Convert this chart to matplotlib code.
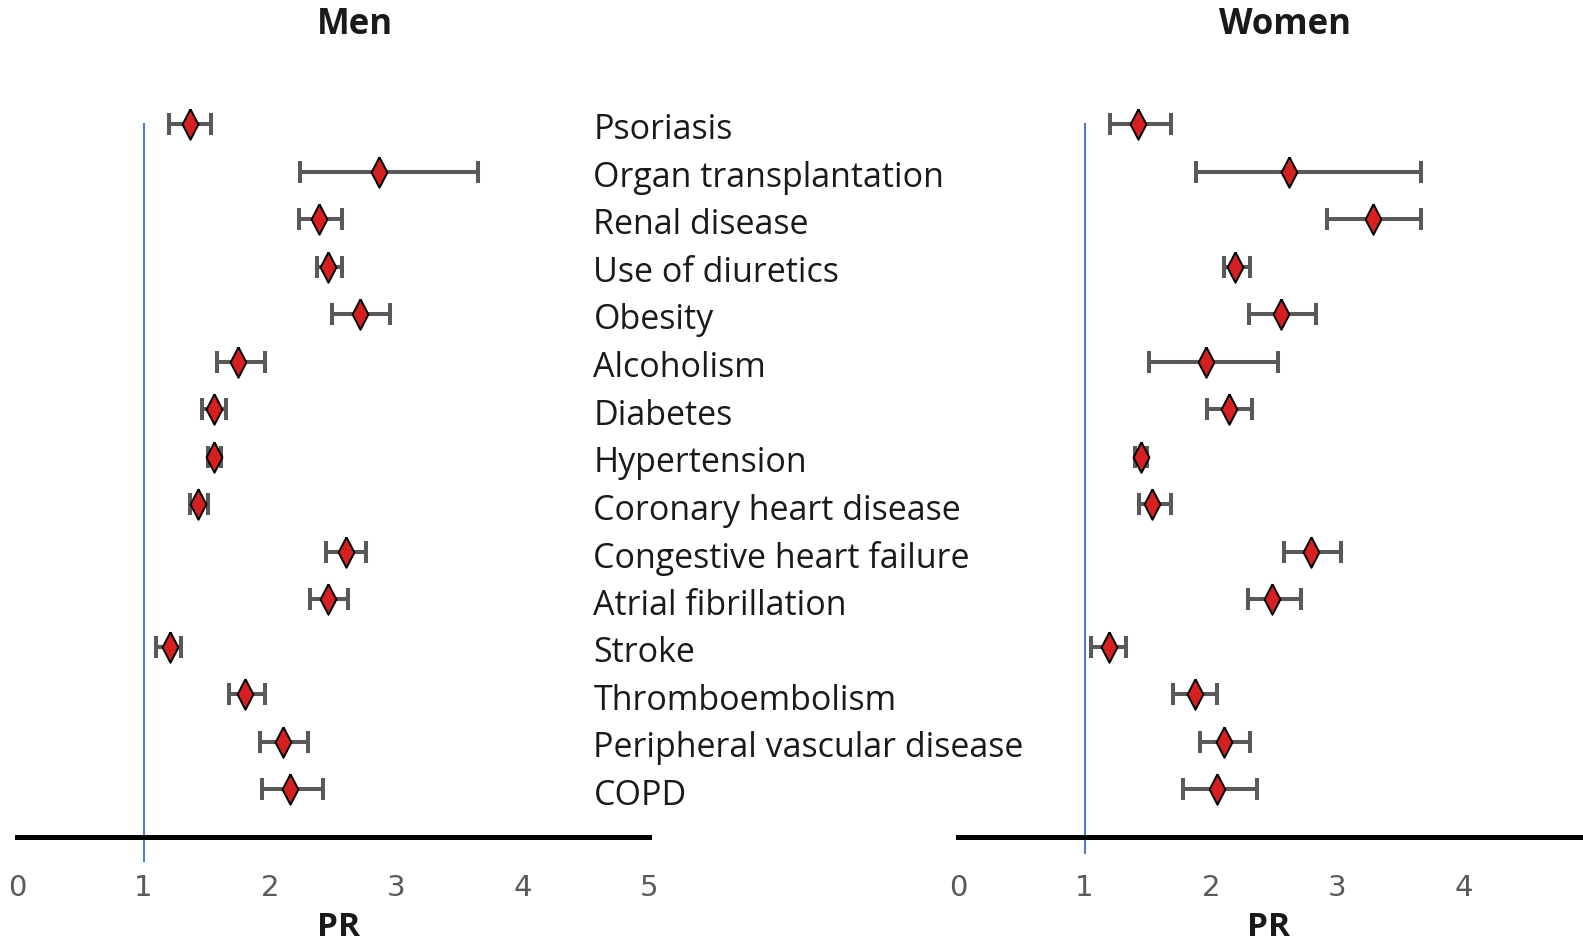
import numpy as np
import matplotlib.pyplot as plt
from matplotlib import font_manager

# conditions, top to bottom
conditions = ['Psoriasis', 'Organ transplantation', 'Renal disease', 'Use of diuretics',
              'Obesity', 'Alcoholism', 'Diabetes', 'Hypertension', 'Coronary heart disease',
              'Congestive heart failure', 'Atrial fibrillation', 'Stroke', 'Thromboembolism',
              'Peripheral vascular disease', 'COPD']

# prevalence ratios with 95% CI
men_pr = [1.37, 2.86, 2.39, 2.46, 2.71, 1.75, 1.56, 1.56, 1.43, 2.60, 2.46, 1.21, 1.80, 2.10, 2.16]
men_lo = [1.20, 2.24, 2.23, 2.37, 2.49, 1.58, 1.46, 1.51, 1.37, 2.44, 2.32, 1.10, 1.68, 1.92, 1.94]
men_hi = [1.53, 3.65, 2.57, 2.57, 2.95, 1.96, 1.65, 1.61, 1.51, 2.76, 2.62, 1.30, 1.96, 2.30, 2.42]

women_pr = [1.42, 2.62, 3.28, 2.19, 2.55, 1.96, 2.14, 1.45, 1.53, 2.79, 2.48, 1.19, 1.87, 2.10, 2.05]
women_lo = [1.20, 1.88, 2.92, 2.10, 2.30, 1.51, 1.97, 1.40, 1.43, 2.58, 2.29, 1.05, 1.70, 1.91, 1.78]
women_hi = [1.68, 3.66, 3.66, 2.31, 2.83, 2.53, 2.32, 1.49, 1.68, 3.03, 2.71, 1.33, 2.05, 2.31, 2.36]

# narrow font for the tick numbers if there is one
names = {f.name for f in font_manager.fontManager.ttflist}
tick_family = 'Liberation Sans Narrow' if 'Liberation Sans Narrow' in names else 'DejaVu Sans'

# slim diamond like the original
slim_diamond = [(0, 1), (0.52, 0), (0, -1), (-0.52, 0), (0, 1)]

W, H = 1583, 943
fig = plt.figure(figsize=(W / 100, H / 100), dpi=100)

top = 1 - 76.7 / H
bottom = 1 - 837 / H
ax_m = fig.add_axes([17.2 / W, bottom, (649 - 17.2) / W, top - bottom])
ax_w = fig.add_axes([958 / W, bottom, (W - 958) / W, top - bottom])

rows = np.arange(len(conditions))


def draw_panel(ax, pr, lo, hi, xmax, blue_bottom):
    pr = np.array(pr)
    err = [pr - np.array(lo), np.array(hi) - pr]
    ax.errorbar(pr, rows, xerr=err, fmt='none', ecolor='#595959', elinewidth=2.9,
                capsize=8, capthick=2.9, zorder=3)
    ax.plot(pr, rows, marker=slim_diamond, ls='none', color='#D42020',
            markeredgecolor='black', markeredgewidth=1.4, markersize=22, zorder=4)
    ax.plot([1, 1], [0, blue_bottom], color='#4A7EC8', lw=1.5, clip_on=False, zorder=2)
    ax.set_xlim(0, xmax)
    ax.set_ylim(15, -1)
    for s in ['top', 'left', 'right']:
        ax.spines[s].set_visible(False)
    ax.spines['bottom'].set_linewidth(3.6)
    ax.spines['bottom'].set_color('black')
    ax.set_yticks([])
    ax.set_xticks(range(0, int(xmax) + 1))
    ax.tick_params(axis='x', length=0, pad=27, labelsize=21, labelcolor='#595959')
    for lab in ax.get_xticklabels():
        lab.set_family(tick_family)
    ax.patch.set_alpha(0)


draw_panel(ax_m, men_pr, men_lo, men_hi, 5, 15.5)
draw_panel(ax_w, women_pr, women_lo, women_hi, 4.94, 15.33)

for i, name in enumerate(conditions):
    ax_m.text(4.56, i + 0.13, name, fontsize=24.5, family='Open Sans', color='#1a1a1a',
              ha='left', va='center', clip_on=False)

fig.text(355 / W, 1 - 25 / H, 'Men', fontsize=25, fontweight='bold', ha='center', va='center',
         family='Open Sans', color='#1a1a1a')
fig.text(1285 / W, 1 - 25 / H, 'Women', fontsize=25, fontweight='bold', ha='center', va='center',
         family='Open Sans', color='#1a1a1a')
fig.text(339 / W, 1 - 927 / H, 'PR', fontsize=24, fontweight='bold', ha='center', va='center',
         family='Open Sans', color='#1a1a1a')
fig.text(1269 / W, 1 - 927 / H, 'PR', fontsize=24, fontweight='bold', ha='center', va='center',
         family='Open Sans', color='#1a1a1a')

fig.savefig('out.png', dpi=100)
